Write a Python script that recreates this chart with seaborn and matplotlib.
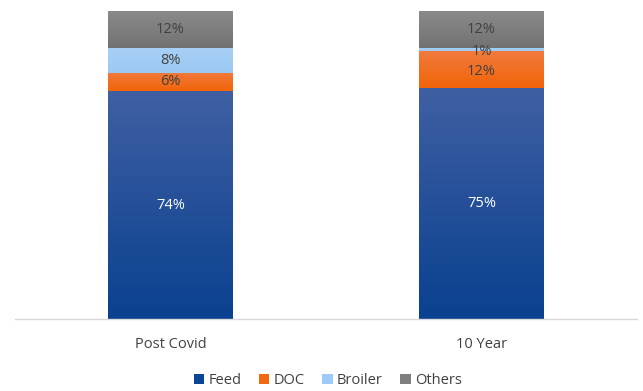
import numpy as np
import pandas as pd
import matplotlib
matplotlib.use("Agg")
import matplotlib.pyplot as plt
import seaborn as sns
from matplotlib.colors import LinearSegmentedColormap
from matplotlib.patches import Patch

categories = ["Post Covid", "10 Year"]
series = ["Feed", "DOC", "Broiler", "Others"]
feed = [74, 75]
doc = [6, 12]
broiler = [8, 1]
others = [12, 12]

colors = {"Feed": "#0a4596", "DOC": "#f26912", "Broiler": "#9dcbf5", "Others": "#7f7f7f"}
grad = {"Feed": ("#0a4190", "#3f5fa2"), "DOC": ("#f26408", "#f07a3c"),
        "Broiler": ("#9cc9f2", "#a6d0f6"), "Others": ("#727272", "#8a8a8a")}
label_colors = {"Feed": "white", "DOC": "#404040", "Broiler": "#404040", "Others": "#404040"}

sns.set_theme(style="white")
plt.rcParams["font.family"] = ["Open Sans", "DejaVu Sans"]

values = {"Feed": feed, "DOC": doc, "Broiler": broiler, "Others": others}
cum = np.cumsum(np.array([feed, doc, broiler, others]), axis=0)

fig = plt.figure(figsize=(6.43, 3.91), dpi=100)
ax = fig.add_axes([15/643, (391-319)/391, 622/643, (319-11)/391])

# Draw stacked by overlaying cumulative totals (top series first)
for i in reversed(range(len(series))):
    s = series[i]
    df = pd.DataFrame({"category": categories, "value": cum[i]})
    sns.barplot(data=df, x="category", y="value", color=colors[s], width=0.4,
                saturation=1, ax=ax, linewidth=0, zorder=2)

# Gradient overlay clipped to each bar segment
patches = list(ax.patches)
order = list(reversed(series))
for k, p in enumerate(patches):
    s = order[k // len(categories)]
    i = series.index(s)
    j = k % len(categories)
    x0 = p.get_x(); w = p.get_width()
    bottom = cum[i - 1][j] if i > 0 else 0
    top = cum[i][j]
    cmap = LinearSegmentedColormap.from_list(s, list(grad[s]))
    g = np.linspace(0, 1, 100).reshape(-1, 1)
    im = ax.imshow(g, cmap=cmap, aspect="auto", origin="lower",
                   extent=[x0, x0 + w, bottom, top], zorder=2 + 0.1 * (4 - i))
    im.set_clip_path(p)

ax.set_xlim(-0.5, 1.5)
ax.set_ylim(0, 100)

# Value labels
for i, s in enumerate(series):
    for j in range(len(categories)):
        bottom = cum[i - 1][j] if i > 0 else 0
        v = values[s][j]
        y = bottom + v / 2
        if s == "Broiler" and v < 3:
            y = bottom + v / 2 - 0.7
        if s == "DOC" and v >= 10:
            y = bottom + v / 2 - 0.7
        ax.text(j, y, f"{v}%", ha="center", va="center", fontsize=10.5,
                color=label_colors[s], zorder=5)

ax.set_xlabel("")
ax.set_ylabel("")
ax.set_yticks([])
ax.tick_params(axis="x", length=0, pad=13, labelsize=10.5, labelcolor="#404040")
for sp in ["top", "left", "right"]:
    ax.spines[sp].set_visible(False)
ax.spines["bottom"].set_color("#d9d9d9")
ax.spines["bottom"].set_linewidth(1)
ax.spines["bottom"].set_zorder(6)

handles = [Patch(facecolor=colors[s], edgecolor="none") for s in series]
fig.legend(handles, series, loc="center", bbox_to_anchor=(0.51, 0.027), ncol=4,
           frameon=False, fontsize=10.5, handlelength=0.7, handleheight=0.7,
           handletextpad=0.3, columnspacing=1.2, labelcolor="#404040")

fig.savefig("out.png", dpi=100)
